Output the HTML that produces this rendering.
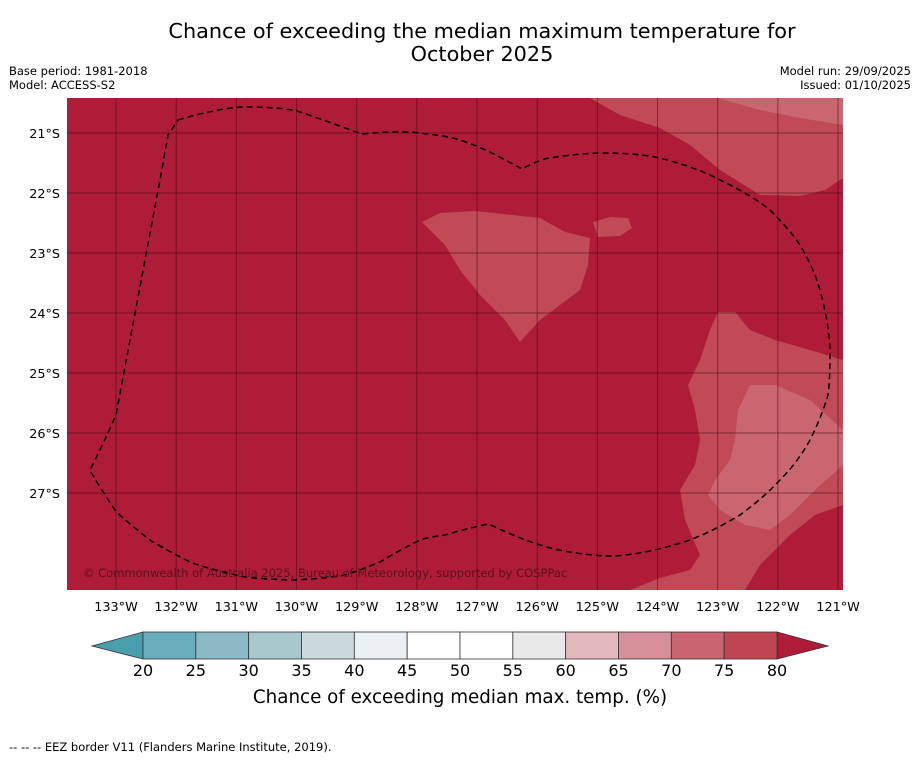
<!DOCTYPE html>
<html><head><meta charset="utf-8"><style>
body{margin:0;background:#fff;font-family:"Liberation Sans","DejaVu Sans",sans-serif;}
svg text{font-family:"DejaVu Sans","Liberation Sans",sans-serif;}
</style></head><body>
<svg id="chart" width="919" height="758" xmlns="http://www.w3.org/2000/svg">
<text x="482" y="38" font-size="20.8" text-anchor="middle">Chance of exceeding the median maximum temperature for</text>
<text x="482" y="61" font-size="20.8" text-anchor="middle">October 2025</text>
<text x="9" y="75" font-size="11.5">Base period: 1981-2018</text>
<text x="9" y="89" font-size="11.5">Model: ACCESS-S2</text>
<text x="911" y="75" font-size="11.5" text-anchor="end">Model run: 29/09/2025</text>
<text x="911" y="89" font-size="11.5" text-anchor="end">Issued: 01/10/2025</text>
<defs><clipPath id="mc"><rect x="67" y="98" width="776" height="492"/></clipPath></defs>
<g clip-path="url(#mc)">
<rect x="67" y="98" width="776" height="492" fill="#ae1c37"/>
<path d="M590,98 L620,115 L660,128 L690,145 L720,170 L760,195 L800,196 L825,190 L843,178 L843,98 Z" fill="#c04a56"/>
<path d="M718,98 L760,110 L800,118 L843,125 L843,98 Z" fill="#c9666f"/>
<path d="M422,222 L440,213 L475,211 L540,218 L565,232 L590,238 L588,265 L580,290 L560,305 L540,320 L520,342 L505,320 L480,295 L460,270 L445,245 L430,230 Z" fill="#c04a56"/>
<path d="M593,222 L610,217 L628,218 L632,228 L620,236 L598,237 Z" fill="#c04a56"/>
<path d="M718,312 L735,312 L750,330 L775,340 L810,350 L843,360 L843,505 L815,515 L790,535 L760,565 L745,590 L630,590 L660,578 L690,570 L700,555 L685,520 L680,490 L695,465 L700,440 L695,410 L688,385 L700,360 L710,330 Z" fill="#c04a56"/>
<path d="M750,385 L775,385 L810,400 L843,430 L843,465 L815,490 L790,515 L770,530 L745,525 L720,510 L708,495 L715,480 L730,460 L735,440 L738,410 Z" fill="#c9666f"/>
<g id="grid"></g>
<path d="M178,120 C210,110 240,106 250,107 C275,107 295,110 300,112 C330,122 350,130 362,134 C385,132 400,131 410,132 C440,135 455,138 460,140 C485,148 505,160 522,169 C535,162 545,158 550,158 C580,153 600,153 610,153 C640,154 650,156 660,158 C690,166 705,172 720,180 C745,192 760,202 770,210 C785,225 795,237 800,245 C812,265 817,280 820,290 C828,320 830,340 830,355 C830,375 829,388 828,395 C822,415 815,430 810,440 C800,458 790,470 780,480 C765,496 752,506 740,515 C720,527 705,534 690,540 C660,550 630,556 610,556 C580,555 555,550 540,545 C515,537 498,528 488,524 C470,528 455,532 445,535 C432,537 425,538 420,540 C400,550 390,556 380,562 C360,570 350,574 340,576 C315,579 300,580 290,580 C265,579 250,578 240,576 C215,570 200,566 190,562 C170,552 160,546 150,540 C135,528 122,518 115,510 C105,495 95,480 90,470 L100,450 L116,415 L130,340 L145,260 L160,180 L168,135 Z" fill="none" stroke="#000" stroke-width="1.5" stroke-dasharray="6,4"/>
<text x="83" y="577" font-size="11.5" fill="#5a1020">© Commonwealth of Australia 2025, Bureau of Meteorology, supported by COSPPac</text>
</g>
<g id="axes"></g>
<g id="cbar"></g>
<text x="460" y="703" font-size="18.3" text-anchor="middle">Chance of exceeding median max. temp. (%)</text>
<text x="9" y="751" font-size="11.5">--  --  -- EEZ border V11 (Flanders Marine Institute, 2019).</text>
</svg>
<script>
const lonTicks=[133,132,131,130,129,128,127,126,125,124,123,122,121];
const latTicks=[21,22,23,24,25,26,27];
const cbarLevels=[20,25,30,35,40,45,50,55,60,65,70,75,80];
const cbarColors=["#6aaebd","#8bbac6","#a9c8cd","#cbdadd","#ebf1f3","#ffffff","#ffffff","#e9e9e9","#e3b9bd","#d68f98","#c96471","#c04552"];
const NS="http://www.w3.org/2000/svg";
const lonX=l=>116+(133-l)*60.17;
const latY=l=>133+(l-21)*60;
const cX=v=>143+(v-20)*(634/60);
function mk(tag,attrs,parent,txt){const e=document.createElementNS(NS,tag);for(const k in attrs)e.setAttribute(k,attrs[k]);if(txt!==undefined)e.textContent=txt;parent.appendChild(e);return e;}
const grid=document.getElementById('grid'),axes=document.getElementById('axes'),cbar=document.getElementById('cbar');
lonTicks.forEach(l=>{const x=lonX(l);
 const g=mk('line',{x1:x,x2:x,y1:98,y2:590,stroke:'#4a0a18','stroke-width':1,'stroke-opacity':0.55},grid);
 
 
 const t=mk('text',{x:x,y:611,'font-size':12.8,'text-anchor':'middle'},axes,l+'°W');
 
 
});
latTicks.forEach(l=>{const y=latY(l);
 const g=mk('line',{x1:67,x2:843,y1:y,y2:y,stroke:'#4a0a18','stroke-width':1,'stroke-opacity':0.55},grid);
 
 
 const t=mk('text',{x:60,y:y+5,'font-size':12.8,'text-anchor':'end'},axes,l+'°S');
 
 
});
const lt=mk('path',{d:`M${cX(20)},632 L92,646 L${cX(20)},659 Z`,fill:'#4a9fae',stroke:'#333','stroke-width':0.8},cbar);


const rt=mk('path',{d:`M${cX(80)},632 L828,646 L${cX(80)},659 Z`,fill:'#ae1c37',stroke:'#333','stroke-width':0.8},cbar);


cbarColors.forEach((c,i)=>{const x0=cX(cbarLevels[i]),x1=cX(cbarLevels[i+1]);
 const r=mk('rect',{x:x0,y:632,width:x1-x0,height:27,fill:c,stroke:'#333','stroke-width':0.8},cbar);
 
 
});
cbarLevels.forEach(v=>{
 const t=mk('text',{x:cX(v),y:676,'font-size':16,'text-anchor':'middle'},cbar,String(v));
 
 
});
</script>
</body></html>
